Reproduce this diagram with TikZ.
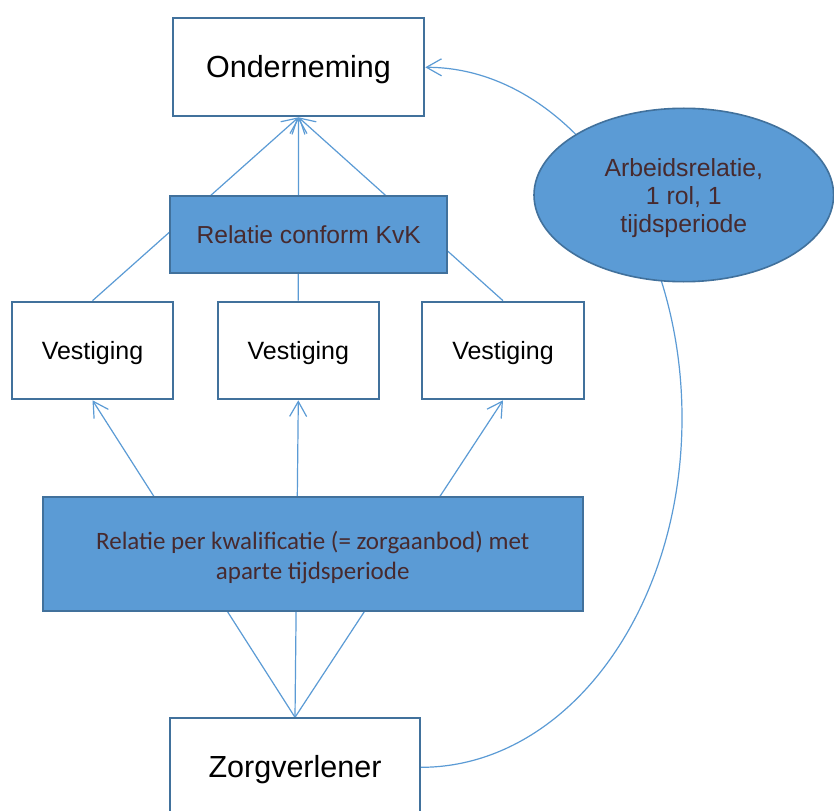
\documentclass[tikz,border=0pt]{standalone}
\usepackage{fontspec}
\setmainfont{Liberation Sans}
\newfontfamily\calibrifont{Carlito}
\usetikzlibrary{arrows.meta,shapes.geometric,backgrounds}
\definecolor{boxfill}{HTML}{5B9BD5}
\definecolor{boxline}{HTML}{41719C}
\definecolor{connblue}{HTML}{5B9BD5}
\definecolor{txtdark}{HTML}{472A2E}
\begin{document}
\begin{tikzpicture}[x=1pt,y=-1pt,
  whitebox/.style={draw=boxline, line width=2pt, fill=white, inner sep=0pt, text=black},
  bluebox/.style={draw=boxline, line width=2pt, fill=boxfill, inner sep=0pt, text=txtdark},
  bigtext/.style={font=\fontsize{30.5}{36}\selectfont, text height=27.6pt, text depth=6.5pt},
  vestbox/.style={whitebox, minimum width=161.6pt, minimum height=97.6pt,
    font=\fontsize{25}{30}\selectfont, text height=22.6pt, text depth=5.3pt},
  conn/.style={draw=connblue, line width=1.2pt},
  arr/.style={conn, -{Straight Barb[length=15pt,width=17pt,line width=1.2pt]}}
]
\useasboundingbox (0,0) rectangle (834,810);
\clip (0,0) rectangle (834,810);

\node[whitebox, bigtext, minimum width=251.6pt, minimum height=98pt] (ond) at (298.5,67.3) {Onderneming};
\node[bluebox, minimum width=277.3pt, minimum height=77pt, font=\fontsize{24.6}{29}\selectfont, text height=22.3pt, text depth=5.2pt] (kvk) at (308.7,234.5) {Relatie conform KvK};
\node[vestbox] (vest1) at (92.5,350.5) {Vestiging};
\node[vestbox] (vest2) at (298.3,350.5) {Vestiging};
\node[vestbox] (vest3) at (503,350.5) {Vestiging};
\node[bluebox, minimum width=540pt, minimum height=114pt] (kwal) at (312.7,553.6) {};
\node[align=center, inner sep=0pt, text=txtdark, font=\calibrifont\fontsize{25}{30}\selectfont] (kwaltxt) at ([yshift=-3.8pt]kwal.center) {Relatie per kwalificatie (= zorgaanbod) met\\aparte tijdsperiode};
\node[whitebox, bigtext, minimum width=250pt, minimum height=98pt] (zorg) at (295,767.3) {Zorgverlener};
\node[ellipse, draw=boxline, line width=1.6pt, fill=boxfill, minimum width=299.6pt, minimum height=173.4pt, inner sep=0pt] (arb) at (683.8,195) {};
\node[align=center, inner sep=0pt, text=txtdark, font=\fontsize{24.8}{28.4}\selectfont] (arbtxt) at ([yshift=-3pt]arb.center) {Arbeidsrelatie,\\1 rol, 1\\tijdsperiode};
\coordinate (bend) at (682,418);

\begin{scope}[on background layer]
  \fill[white] (0,0) rectangle (834,810);
  \draw[arr] (vest1.north) -- (ond.south);
  \draw[arr] (vest2.north) -- (ond.south);
  \draw[arr] (vest3.north) -- (ond.south);
  \draw[arr] (zorg.north) -- (vest1.south);
  \draw[arr] (zorg.north) -- (vest2.south);
  \draw[arr] (zorg.north) -- (vest3.south);
  \draw[arr] (zorg.east) .. controls +(145,0) and +(0,193) .. (bend)
             .. controls +(0,-193) and +(140,0) .. (ond.east);
\end{scope}
\end{tikzpicture}
\end{document}
